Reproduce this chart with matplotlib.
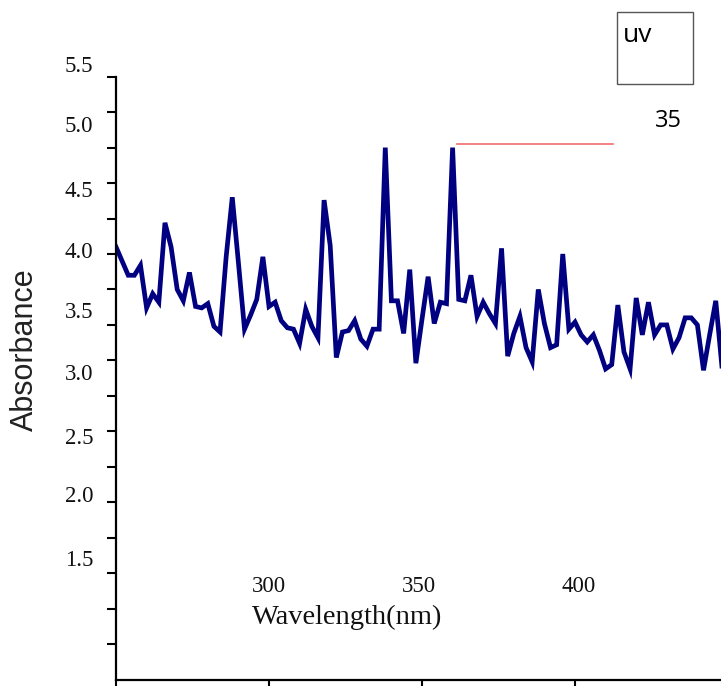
import numpy as np
import matplotlib
matplotlib.use("Agg")
import matplotlib.pyplot as plt
from matplotlib.lines import Line2D
from matplotlib.patches import Rectangle

# wavelength in nm, every 2 nm
wavelength = np.arange(250, 450, 2)
absorbance = [
    4.30, 4.20, 4.10, 4.10, 4.17, 3.87, 3.97, 3.91, 4.47, 4.30,
    4.00, 3.92, 4.12, 3.88, 3.87, 3.90, 3.74, 3.70, 4.23, 4.65,
    4.19, 3.72, 3.82, 3.93, 4.23, 3.88, 3.91, 3.78, 3.73, 3.72,
    3.62, 3.86, 3.74, 3.66, 4.63, 4.31, 3.52, 3.70, 3.71, 3.78,
    3.65, 3.60, 3.72, 3.72, 5.00, 3.92, 3.92, 3.69, 4.14, 3.48,
    3.79, 4.09, 3.76, 3.91, 3.90, 5.00, 3.93, 3.92, 4.10, 3.81,
    3.91, 3.83, 3.76, 4.29, 3.53, 3.69, 3.81, 3.59, 3.49, 4.00,
    3.76, 3.59, 3.61, 4.25, 3.72, 3.77, 3.68, 3.63, 3.68, 3.57,
    3.44, 3.47, 3.89, 3.56, 3.44, 3.94, 3.68, 3.91, 3.68, 3.75,
    3.75, 3.58, 3.66, 3.80, 3.80, 3.75, 3.43, 3.68, 3.92, 3.46,
]

ytick_labels = ["5.5", "5.0", "4.5", "4.0", "3.5", "3.0", "2.5", "2.0", "1.5"]
ylabel_ypix = [66, 127, 191, 252, 312, 374, 438, 497, 560]
xtick_labels = ["300", "350", "400"]
xlabel_xpix = [269, 419, 579]

W, H = 721, 686


def px(x, y):
    return x / W, 1 - y / H


fig = plt.figure(figsize=(W / 100, H / 100), dpi=100)
ax = fig.add_axes([116 / W, 1 - 679.5 / H, (W - 116) / W, (679.5 - 76.7) / H])

ax.plot(wavelength, absorbance, color="#000080", lw=3.4, solid_joinstyle="miter")
ax.set_xlim(250, 250 + 605 / 3.06)
ax.set_ylim(1.25, 5.5)

ax.set_xticks([250, 300, 350, 400])
ax.set_yticks(np.arange(1.5, 5.51, 0.25))
ax.set_xticklabels([])
ax.set_yticklabels([])
ax.tick_params(axis="y", direction="out", length=6.5, width=1.5)
ax.tick_params(axis="x", direction="out", length=5, width=1.5)
for s in ["top", "right"]:
    ax.spines[s].set_visible(False)
for s in ["left", "bottom"]:
    ax.spines[s].set_linewidth(1.6)

# loose tick labels (they sit off the ticks in the original)
for lab, yp in zip(ytick_labels, ylabel_ypix):
    fig.text(*px(93, yp), lab, ha="right", va="center",
             family="Liberation Serif", fontsize=16.5, color="#111111")
for lab, xp in zip(xtick_labels, xlabel_xpix):
    fig.text(*px(xp, 586), lab, ha="center", va="center",
             family="Liberation Serif", fontsize=16.5, color="#111111")

fig.text(*px(347, 617), "Wavelength(nm)", ha="center", va="center",
         family="Liberation Serif", fontsize=20.5, color="#111111")
fig.text(*px(25, 350), "Absorbance", ha="center", va="center", rotation=90,
         family="Liberation Sans", fontsize=22, color="#222222")

# uv box, label and red marker line
x0, y1 = px(617.3, 84)
x1, y0 = px(693.3, 11.7)
fig.add_artist(Rectangle((x0, y1), x1 - x0, y0 - y1, transform=fig.transFigure,
                         fill=False, edgecolor="#555555", lw=1))
fig.text(*px(623, 42), "uv", ha="left", va="baseline",
         family="Open Sans", fontsize=19, color="black")
fig.text(*px(668, 121), "35", ha="center", va="center",
         family="Open Sans", fontsize=17, color="black")
lx0, ly = px(457.3, 144.3)
lx1, _ = px(613.3, 144.3)
fig.add_artist(Line2D([lx0, lx1], [ly, ly], transform=fig.transFigure,
                      color="#f26c6c", lw=1.2))

fig.savefig("out.png", dpi=100)
